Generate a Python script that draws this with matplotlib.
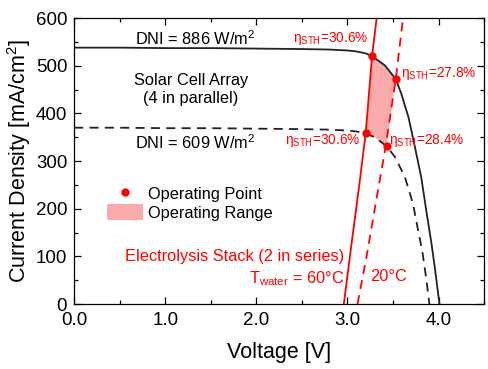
import numpy as np
import matplotlib
matplotlib.use("Agg")
import matplotlib.pyplot as plt
from matplotlib.lines import Line2D
from matplotlib.patches import Patch
from matplotlib.ticker import MultipleLocator, FormatStrFormatter

plt.rcParams['font.family'] = ['Liberation Sans', 'DejaVu Sans']
plt.rcParams['mathtext.fontset'] = 'custom'
plt.rcParams['mathtext.rm'] = 'Liberation Sans'
plt.rcParams['mathtext.it'] = 'Liberation Sans:italic'

# solar cell array I-V curves
v_886 = [0.0, 0.5, 1.0, 1.5, 2.0, 2.5, 2.8, 3.0, 3.1, 3.2, 3.27, 3.41, 3.53, 3.59, 3.67, 3.74, 3.81, 3.87, 3.92, 3.96, 4.01]
j_886 = [538, 538, 537, 537, 536, 535, 534, 532, 530, 526, 520, 501, 472, 442, 392, 330, 266, 190, 130, 75, 0]
v_609 = [0.0, 0.5, 1.0, 1.5, 2.0, 2.5, 2.8, 3.0, 3.1, 3.2, 3.3, 3.43, 3.52, 3.63, 3.72, 3.78, 3.82, 3.86, 3.90]
j_609 = [370, 370, 369, 369, 368, 367, 366, 364, 362, 358, 350, 331, 309, 267, 210, 150, 113, 60, 0]

# electrolysis stack load curves
j_ec = [0, 60, 134, 250, 358, 520, 600]
v_ec60 = [2.96, 3.00, 3.05, 3.13, 3.20, 3.27, 3.32]
j_ec20 = [0, 100, 200, 331, 472, 600]
v_ec20 = [3.11, 3.21, 3.30, 3.42, 3.53, 3.61]

# operating points: (60C/886, 20C/886, 60C/609, 20C/609)
op_v = [3.27, 3.53, 3.20, 3.43]
op_j = [520, 472, 358, 331]

red = '#ff0000'
pink = '#f9aaaa'
fs = 11.8

fig, ax = plt.subplots(figsize=(4.88, 3.69), dpi=100)
fig.subplots_adjust(left=0.152, right=0.992, top=0.951, bottom=0.176)

ax.plot(v_886, j_886, color='#222222', lw=1.3)
ax.plot(v_609, j_609, color='#222222', lw=1.3, ls=(0, (5, 3.5)))
ax.plot(v_ec60, j_ec, color=red, lw=1.3)
ax.plot(v_ec20, j_ec20, color=red, lw=1.3, ls=(0, (5, 3.5)))

# operating range polygon: left edge along 60C line, top along 886 curve,
# right edge along 20C line, bottom along 609 curve
top_v = [v for v in v_886 if op_v[0] < v < op_v[1]]
top_j = [j for v, j in zip(v_886, j_886) if op_v[0] < v < op_v[1]]
bot_v = [v for v in v_609 if op_v[2] < v < op_v[3]]
bot_j = [j for v, j in zip(v_609, j_609) if op_v[2] < v < op_v[3]]
poly_v = [op_v[2], op_v[0]] + top_v + [op_v[1], op_v[3]] + bot_v[::-1]
poly_j = [op_j[2], op_j[0]] + top_j + [op_j[1], op_j[3]] + bot_j[::-1]
ax.fill(poly_v, poly_j, color=pink, lw=0, zorder=1)

ax.plot(op_v, op_j, 'o', color=red, ms=5, zorder=4)

efs = 9.8
ax.text(3.23, 558, r'η$_{\mathrm{STH}}$=30.6%', color=red, fontsize=efs, ha='right', va='center')
ax.text(3.59, 484, r'η$_{\mathrm{STH}}$=27.8%', color=red, fontsize=efs, ha='left', va='center')
ax.text(3.14, 344, r'η$_{\mathrm{STH}}$=30.6%', color=red, fontsize=efs, ha='right', va='center')
ax.text(3.46, 344, r'η$_{\mathrm{STH}}$=28.4%', color=red, fontsize=efs, ha='left', va='center')

ax.text(0.67, 556, r'DNI = 886 W/m$^2$', fontsize=fs, ha='left', va='center')
ax.text(0.67, 338, r'DNI = 609 W/m$^2$', fontsize=fs, ha='left', va='center')
ax.text(1.28, 450, 'Solar Cell Array\n(4 in parallel)', fontsize=fs, ha='center', va='center',
        multialignment='center', linespacing=1.2)

ax.text(2.96, 100, 'Electrolysis Stack (2 in series)', color=red, fontsize=fs, ha='right', va='center')
ax.text(2.96, 54, r'T$_{\mathrm{water}}$ = 60°C', color=red, fontsize=fs, ha='right', va='center')
ax.text(3.25, 57, '20°C', color=red, fontsize=fs, ha='left', va='center')

handles = [Line2D([], [], ls='none', marker='o', color=red, ms=5),
           Patch(facecolor=pink, edgecolor='none')]
ax.legend(handles, ['Operating Point', 'Operating Range'], loc='upper left',
          bbox_to_anchor=(0.043, 0.467), frameon=False, fontsize=fs,
          handlelength=2.25, handleheight=1.1, handletextpad=0.3, labelspacing=0.15)

ax.set_xlim(0, 4.5)
ax.set_ylim(0, 600)
ax.xaxis.set_major_locator(MultipleLocator(1))
ax.xaxis.set_minor_locator(MultipleLocator(0.5))
ax.yaxis.set_major_locator(MultipleLocator(100))
ax.yaxis.set_minor_locator(MultipleLocator(50))
ax.xaxis.set_major_formatter(FormatStrFormatter('%.1f'))
ax.tick_params(which='both', direction='in', top=True, right=True, labelsize=13.5, width=0.9)
ax.tick_params(which='major', length=5)
ax.tick_params(which='minor', length=3)
ax.tick_params(axis='x', which='major', pad=6)
ax.tick_params(axis='y', which='major', pad=5)
for s in ax.spines.values():
    s.set_linewidth(0.9)
ax.set_xlabel('Voltage [V]', fontsize=15.5, labelpad=9)
ax.set_ylabel('Current Density [mA/cm$^2$]', fontsize=15.5, labelpad=2)

fig.savefig('out.png', dpi=100)
